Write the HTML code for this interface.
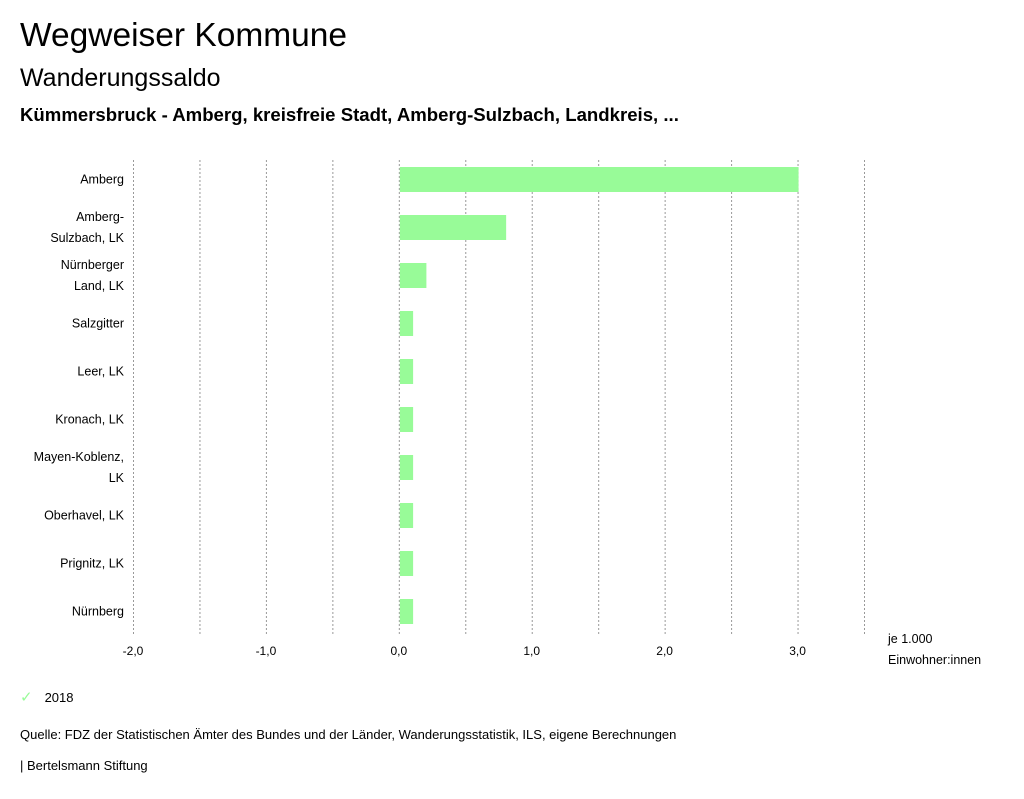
<!DOCTYPE html>
<html><head><meta charset="utf-8"><style>
body{margin:0;width:1024px;height:799px;background:#fff;font-family:"Liberation Sans","DejaVu Sans",sans-serif;color:#000;position:relative;overflow:hidden}
.t{position:absolute;white-space:nowrap}
</style></head><body>
<div class="t" style="left:20px;top:17px;font-size:33.5px">Wegweiser Kommune</div>
<div class="t" style="left:20px;top:64px;font-size:25px">Wanderungssaldo</div>
<div class="t" style="left:20px;top:104px;font-size:18.6px;font-weight:bold">Kümmersbruck - Amberg, kreisfreie Stadt, Amberg-Sulzbach, Landkreis, ...</div>
<svg id="chart" width="1024" height="680" style="position:absolute;left:0;top:0" font-family="Liberation Sans, DejaVu Sans, sans-serif"></svg>
<div class="t" style="left:20px;top:688px;font-size:13px"><span style="color:#98fb98;font-size:15px">✓</span><span style="margin-left:12px">2018</span></div>
<div class="t" style="left:20px;top:727px;font-size:13px">Quelle: FDZ der Statistischen Ämter des Bundes und der Länder, Wanderungsstatistik, ILS, eigene Berechnungen</div>
<div class="t" style="left:20px;top:758px;font-size:13px">| Bertelsmann Stiftung</div>
<script>
const categories=[["Amberg"],["Amberg-","Sulzbach, LK"],["Nürnberger","Land, LK"],["Salzgitter"],["Leer, LK"],["Kronach, LK"],["Mayen-Koblenz,","LK"],["Oberhavel, LK"],["Prignitz, LK"],["Nürnberg"]];
const values=[3.0,0.8,0.2,0.1,0.1,0.1,0.1,0.1,0.1,0.1];
const ticks=[-2,-1,0,1,2,3];
const tickLabels=["-2,0","-1,0","0,0","1,0","2,0","3,0"];
const xMin=-2,xMax=3.5,x0=133,x1=864,yTop=155.5,yBot=635.5;
const ns="http://www.w3.org/2000/svg",svg=document.getElementById("chart");
const X=v=>x0+(v-xMin)/(xMax-xMin)*(x1-x0);
const band=(yBot-yTop)/categories.length;
function mk(t,a){const e=document.createElementNS(ns,t);for(const k in a)e.setAttribute(k,a[k]);svg.appendChild(e);return e;}
for(let v=xMin;v<=xMax+1e-9;v+=0.5){
 const g=mk("line",{x1:X(v)+0.5,x2:X(v)+0.5,y1:160,y2:635,stroke:"#999","stroke-dasharray":"2,2"});
 
 
}
ticks.forEach((v,i)=>{
 const t=mk("text",{x:X(v),y:655,"font-size":12,"text-anchor":"middle"});t.textContent=tickLabels[i];
 
 
});
categories.forEach((c,i)=>{
 const cy=yTop+band*(i+0.5);
 const v=values[i];
 const r=mk("rect",{x:Math.min(X(0),X(v))+1,y:cy-12.5,width:Math.abs(X(v)-X(0)),height:25,fill:"#98fb98"});
 
 
 c.forEach((l,j)=>{
  const t=mk("text",{x:124,y:cy+4+(j-(c.length-1)/2)*21,"font-size":12.5,"text-anchor":"end"});t.textContent=l;
  
  
 });
});
[["je 1.000",643],["Einwohner:innen",664]].forEach(([s,y])=>{
 const t=mk("text",{x:888,y:y,"font-size":12.5});t.textContent=s;
 
 
});
</script>
</body></html>
